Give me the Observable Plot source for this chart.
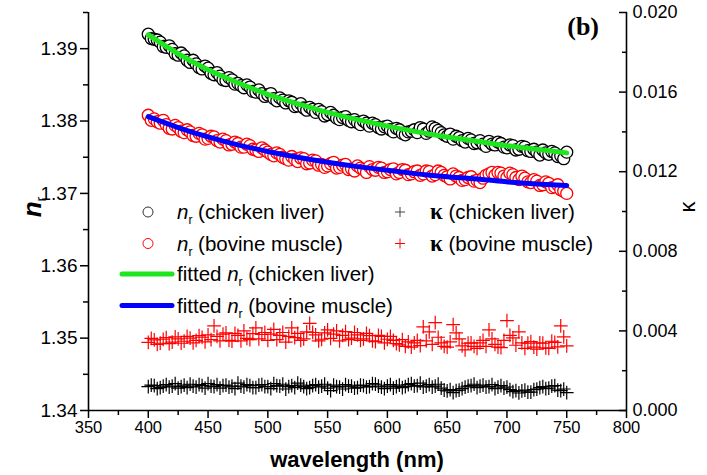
<!DOCTYPE html>
<html><head><meta charset="utf-8">
<script src="https://cdn.jsdelivr.net/npm/d3@7"></script>
<script src="https://cdn.jsdelivr.net/npm/@observablehq/plot@0.6"></script>
<style>
html,body{margin:0;padding:0;background:#fff;}
#chart{position:relative;width:707px;height:475px;}
#chart svg{position:absolute;left:0;top:0;}
</style></head><body><div id="chart"></div>
<script>
// ---- data ----
const wavelength = [400,402.5,405,407.5,410,412.5,415,417.5,420,422.5,425,427.5,430,432.5,435,437.5,440,442.5,445,447.5,
  450,452.5,455,457.5,460,462.5,465,467.5,470,472.5,475,477.5,480,482.5,485,487.5,490,492.5,495,497.5,
  500,502.5,505,507.5,510,512.5,515,517.5,520,522.5,525,527.5,530,532.5,535,537.5,540,542.5,545,547.5,
  550,552.5,555,557.5,560,562.5,565,567.5,570,572.5,575,577.5,580,582.5,585,587.5,590,592.5,595,597.5,
  600,602.5,605,607.5,610,612.5,615,617.5,620,622.5,625,627.5,630,632.5,635,637.5,640,642.5,645,647.5,
  650,652.5,655,657.5,660,662.5,665,667.5,670,672.5,675,677.5,680,682.5,685,687.5,690,692.5,695,697.5,
  700,702.5,705,707.5,710,712.5,715,717.5,720,722.5,725,727.5,730,732.5,735,737.5,740,742.5,745,747.5,
  750];
const nrChickenLiver = [1.3920,1.3914,1.3913,1.3912,1.3909,1.3903,1.3902,1.3904,1.3899,1.3893,
  1.3891,1.3894,1.3890,1.3884,1.3881,1.3884,1.3879,1.3874,1.3872,1.3876,
  1.3873,1.3866,1.3864,1.3867,1.3862,1.3857,1.3856,1.3860,1.3857,1.3851,
  1.3852,1.3849,1.3846,1.3850,1.3847,1.3841,1.3840,1.3843,1.3838,1.3834,
  1.3836,1.3838,1.3831,1.3828,1.3832,1.3829,1.3825,1.3828,1.3826,1.3820,
  1.3821,1.3824,1.3818,1.3815,1.3819,1.3816,1.3812,1.3816,1.3813,1.3807,
  1.3809,1.3812,1.3808,1.3804,1.3802,1.3805,1.3806,1.3801,1.3799,1.3802,
  1.3798,1.3795,1.3800,1.3797,1.3793,1.3797,1.3795,1.3791,1.3789,1.3792,
  1.3793,1.3788,1.3785,1.3790,1.3788,1.3783,1.3781,1.3785,1.3786,1.3788,
  1.3784,1.3791,1.3789,1.3783,1.3786,1.3792,1.3790,1.3787,1.3784,1.3781,
  1.3779,1.3782,1.3775,1.3779,1.3777,1.3773,1.3771,1.3776,1.3774,1.3769,
  1.3770,1.3773,1.3768,1.3765,1.3772,1.3768,1.3767,1.3771,1.3769,1.3764,
  1.3763,1.3767,1.3766,1.3760,1.3761,1.3765,1.3764,1.3759,1.3758,1.3761,
  1.3757,1.3753,1.3760,1.3756,1.3754,1.3758,1.3756,1.3751,1.3752,1.3748,
  1.3757];
const nrBovineMuscle = [1.3808,1.3801,1.3803,1.3799,1.3797,1.3801,1.3795,1.3790,1.3789,1.3794,
  1.3791,1.3786,1.3784,1.3788,1.3785,1.3780,1.3779,1.3783,1.3781,1.3775,
  1.3776,1.3779,1.3778,1.3773,1.3771,1.3775,1.3773,1.3767,1.3768,1.3771,
  1.3769,1.3764,1.3764,1.3768,1.3766,1.3761,1.3760,1.3758,1.3763,1.3760,
  1.3757,1.3754,1.3752,1.3756,1.3754,1.3750,1.3748,1.3746,1.3751,1.3747,
  1.3744,1.3749,1.3748,1.3741,1.3742,1.3746,1.3745,1.3739,1.3740,1.3736,
  1.3738,1.3741,1.3743,1.3735,1.3736,1.3739,1.3740,1.3733,1.3734,1.3731,
  1.3738,1.3735,1.3733,1.3729,1.3737,1.3733,1.3732,1.3736,1.3735,1.3729,
  1.3730,1.3733,1.3734,1.3727,1.3729,1.3733,1.3732,1.3726,1.3727,1.3730,
  1.3731,1.3725,1.3727,1.3731,1.3730,1.3724,1.3726,1.3731,1.3729,1.3725,
  1.3723,1.3720,1.3727,1.3724,1.3722,1.3718,1.3719,1.3722,1.3723,1.3717,
  1.3718,1.3715,1.3721,1.3725,1.3727,1.3729,1.3725,1.3729,1.3728,1.3724,
  1.3722,1.3728,1.3726,1.3722,1.3719,1.3724,1.3721,1.3716,1.3715,1.3719,
  1.3717,1.3711,1.3712,1.3716,1.3714,1.3708,1.3709,1.3712,1.3705,1.3703,
  1.3700];
const kappaChickenLiver = [0.00120,0.00128,0.00125,0.00110,0.00115,0.00122,0.00130,0.00118,0.00122,0.00135,
  0.00112,0.00120,0.00128,0.00115,0.00132,0.00122,0.00118,0.00130,0.00125,0.00112,
  0.00135,0.00122,0.00120,0.00130,0.00112,0.00125,0.00128,0.00118,0.00122,0.00110,
  0.00138,0.00122,0.00118,0.00130,0.00125,0.00115,0.00115,0.00128,0.00130,0.00120,
  0.00120,0.00110,0.00135,0.00125,0.00122,0.00132,0.00108,0.00120,0.00125,0.00115,
  0.00138,0.00128,0.00120,0.00110,0.00115,0.00125,0.00130,0.00118,0.00122,0.00132,
  0.00112,0.00100,0.00128,0.00120,0.00118,0.00108,0.00130,0.00122,0.00122,0.00112,
  0.00115,0.00128,0.00125,0.00118,0.00120,0.00135,0.00132,0.00122,0.00118,0.00110,
  0.00122,0.00130,0.00112,0.00120,0.00128,0.00115,0.00120,0.00130,0.00135,0.00122,
  0.00125,0.00138,0.00118,0.00122,0.00130,0.00118,0.00122,0.00132,0.00112,0.00102,
  0.00098,0.00105,0.00090,0.00100,0.00102,0.00110,0.00118,0.00122,0.00125,0.00132,
  0.00115,0.00122,0.00128,0.00118,0.00120,0.00130,0.00110,0.00118,0.00125,0.00112,
  0.00118,0.00105,0.00095,0.00100,0.00088,0.00098,0.00102,0.00092,0.00092,0.00105,
  0.00108,0.00115,0.00120,0.00110,0.00112,0.00122,0.00125,0.00102,0.00100,0.00108,
  0.00090];
const kappaBovineMuscle = [0.00342,0.00362,0.00355,0.00332,0.00338,0.00358,0.00366,0.00336,0.00344,0.00370,
  0.00360,0.00338,0.00348,0.00372,0.00364,0.00340,0.00352,0.00376,0.00368,0.00345,
  0.00380,0.00356,0.00425,0.00372,0.00350,0.00384,0.00390,0.00352,0.00348,0.00388,
  0.00378,0.00350,0.00400,0.00362,0.00356,0.00386,0.00415,0.00360,0.00382,0.00392,
  0.00352,0.00384,0.00408,0.00356,0.00378,0.00392,0.00344,0.00372,0.00415,0.00366,
  0.00388,0.00352,0.00360,0.00395,0.00438,0.00392,0.00380,0.00350,0.00358,0.00390,
  0.00405,0.00362,0.00384,0.00400,0.00350,0.00378,0.00396,0.00356,0.00364,0.00392,
  0.00380,0.00352,0.00360,0.00388,0.00376,0.00350,0.00346,0.00378,0.00372,0.00340,
  0.00358,0.00372,0.00352,0.00336,0.00330,0.00356,0.00322,0.00345,0.00318,0.00340,
  0.00352,0.00326,0.00420,0.00350,0.00395,0.00332,0.00442,0.00368,0.00340,0.00322,
  0.00318,0.00345,0.00432,0.00390,0.00360,0.00325,0.00305,0.00338,0.00340,0.00322,
  0.00312,0.00340,0.00352,0.00322,0.00405,0.00360,0.00332,0.00318,0.00316,0.00352,
  0.00452,0.00378,0.00365,0.00328,0.00395,0.00340,0.00312,0.00338,0.00346,0.00318,
  0.00308,0.00340,0.00338,0.00315,0.00312,0.00348,0.00342,0.00320,0.00425,0.00370,
  0.00325];
const fitWavelength = [400,425,450,475,500,525,550,575,600,625,650,675,700,725,750];
const fitChickenLiver = [1.3919,1.3893,1.3871,1.3853,1.3837,1.3824,1.3812,1.3802,1.3793,1.3785,1.3778,1.3772,1.3766,1.3761,1.3756];
const fitBovineMuscle = [1.3806,1.3791,1.3778,1.3767,1.3758,1.3750,1.3743,1.3737,1.3732,1.3727,1.3723,1.3720,1.3716,1.3713,1.3711];

const xTicks = [350,400,450,500,550,600,650,700,750,800];
const xMinorTicks = [375,425,475,525,575,625,675,725,775];
const nrTicks = [1.34,1.35,1.36,1.37,1.38,1.39];
const nrMinorTicks = [1.345,1.355,1.365,1.375,1.385,1.395];
const kappaTicks = [0.000,0.004,0.008,0.012,0.016,0.020];
const kappaMinorTicks = [0.002,0.006,0.010,0.014,0.018];

// ---- tables built from the arrays ----
const measured = wavelength.map((w, i) => ({
  w, liver: nrChickenLiver[i], muscle: nrBovineMuscle[i],
  kLiver: kappaChickenLiver[i], kMuscle: kappaBovineMuscle[i]
}));
const fitted = fitWavelength.map((w, i) => ({w, liver: fitChickenLiver[i], muscle: fitBovineMuscle[i]}));

const W = 707, H = 475;
const margins = {marginTop: 12, marginRight: 81, marginBottom: 65, marginLeft: 88};
const FONT = "Arial, 'Liberation Sans', Helvetica, sans-serif";
const SERIF = "'Liberation Serif', 'Times New Roman', serif";
const GREEN = "#1ee61e", BLUE = "#0000ff", RED = "#ff0000";

const p1 = Plot.plot({
  width: W, height: H, ...margins,
  style: {fontFamily: FONT, background: "white", color: "#000", overflow: "visible"},
  x: {domain: [350, 800], label: null},
  y: {domain: [1.34, 1.395], label: null},
  marks: [
    Plot.dot(measured, {x: "w", y: "liver", r: 6, stroke: "#000", fill: "#fff", strokeWidth: 1.3}),
    Plot.dot(measured, {x: "w", y: "muscle", r: 6, stroke: RED, fill: "#fff", strokeWidth: 1.3}),
    Plot.line(fitted, {x: "w", y: "liver", stroke: GREEN, strokeWidth: 5, curve: "natural"}),
    Plot.line(fitted, {x: "w", y: "muscle", stroke: BLUE, strokeWidth: 5, curve: "natural"}),
    Plot.ruleX([350], {stroke: "#000", strokeWidth: 1.6}),
    Plot.ruleY([1.34], {stroke: "#000", strokeWidth: 1.6}),
    Plot.axisY(nrTicks, {anchor: "left", tickSize: 8, tickPadding: 3, strokeWidth: 1.5, fontSize: 19, tickFormat: d3.format(".2f"), label: null}),
    Plot.axisY(nrMinorTicks, {anchor: "left", tickSize: 5, strokeWidth: 1.5, tickFormat: () => "", label: null}),
    Plot.axisX(xTicks, {anchor: "bottom", tickSize: 8, tickPadding: 3, strokeWidth: 1.5, fontSize: 16.5, label: null}),
    Plot.axisX(xMinorTicks, {anchor: "bottom", tickSize: 5, strokeWidth: 1.5, tickFormat: () => "", label: null})
  ]
});

const p2 = Plot.plot({
  width: W, height: H, ...margins,
  style: {fontFamily: FONT, background: "transparent", color: "#000", overflow: "visible"},
  x: {domain: [350, 800], label: null, axis: null},
  y: {domain: [0, 0.02], label: null},
  marks: [
    Plot.dot(measured, {x: "w", y: "kLiver", symbol: "plus", r: 4.5, stroke: "#000", fill: "none", strokeWidth: 1.2}),
    Plot.dot(measured, {x: "w", y: "kMuscle", symbol: "plus", r: 4.5, stroke: RED, fill: "none", strokeWidth: 1.2}),
    Plot.ruleX([800], {stroke: "#000", strokeWidth: 1.6}),
    Plot.axisY(kappaTicks, {anchor: "right", tickSize: -8, tickPadding: 14, strokeWidth: 1.5, fontSize: 18, tickFormat: d3.format(".3f"), label: null}),
    Plot.axisY(kappaMinorTicks, {anchor: "right", tickSize: -5, tickPadding: 10, strokeWidth: 1.5, tickFormat: () => "", label: null})
  ]
});

const chart = document.getElementById("chart");
chart.appendChild(p1);
chart.appendChild(p2);

// ---- titles, panel tag and legend (text kept as real text) ----
const svg = d3.select(p2);
const deco = svg.append("g").attr("font-family", FONT).attr("fill", "#000").attr("text-anchor", "start");

// x-axis title
deco.append("text").attr("x", 357).attr("y", 467).attr("text-anchor", "middle")
  .attr("font-size", 22).attr("font-weight", "bold").text("wavelength (nm)");

// left y-axis title n_r
const ly = deco.append("text").attr("transform", "translate(41,207) rotate(-90)")
  .attr("text-anchor", "middle").attr("font-size", 26).attr("font-weight", "bold");
ly.append("tspan").attr("font-style", "italic").text("n");
ly.append("tspan").attr("font-size", 14).attr("dy", 5).attr("font-weight", "normal").text("r");

// right y-axis title kappa
deco.append("text").attr("transform", "translate(695,207) rotate(-90)")
  .attr("text-anchor", "middle").attr("font-size", 22).text("κ");

// panel tag
deco.append("text").attr("x", 599).attr("y", 35).attr("text-anchor", "end")
  .attr("font-family", SERIF).attr("font-size", 26).attr("font-weight", "bold").text("(b)");

// legend
const LFS = 20.5;
function nrLabel(x, y, pre, post) {
  const t = deco.append("text").attr("x", x).attr("y", y).attr("font-size", LFS).attr("text-anchor", "start");
  if (pre) t.append("tspan").text(pre);
  t.append("tspan").attr("font-style", "italic").text("n");
  t.append("tspan").attr("font-size", 12).attr("dy", 5).text("r");
  t.append("tspan").attr("dy", -5).text(post);
}
function kLabel(x, y, post) {
  const t = deco.append("text").attr("x", x).attr("y", y).attr("font-size", LFS).attr("text-anchor", "start");
  t.append("tspan").attr("font-family", SERIF).attr("font-weight", "bold").attr("font-size", 23).text("κ");
  t.append("tspan").text(" " + post);
}
const rows = [212, 243.5, 274, 305.5];
const leg = deco.append("g");
leg.append("circle").attr("cx", 148).attr("cy", rows[0]).attr("r", 5).attr("fill", "#fff").attr("stroke", "#333").attr("stroke-width", 1);
nrLabel(177, rows[0] + 7, "", " (chicken liver)");
leg.append("circle").attr("cx", 148).attr("cy", rows[1]).attr("r", 5).attr("fill", "#fff").attr("stroke", RED).attr("stroke-width", 1);
nrLabel(177, rows[1] + 7, "", " (bovine muscle)");
leg.append("path").attr("d", `M395,${rows[0]}h10M400,${rows[0]-5}v10`).attr("stroke", "#444").attr("stroke-width", 1);
kLabel(430, rows[0] + 7, "(chicken liver)");
leg.append("path").attr("d", `M395,${rows[1]}h10M400,${rows[1]-5}v10`).attr("stroke", RED).attr("stroke-width", 1);
kLabel(430, rows[1] + 7, "(bovine muscle)");
leg.append("line").attr("x1", 122).attr("x2", 172).attr("y1", rows[2]).attr("y2", rows[2]).attr("stroke", GREEN).attr("stroke-width", 5).attr("stroke-linecap", "round");
nrLabel(177, rows[2] + 7, "fitted ", " (chicken liver)");
leg.append("line").attr("x1", 122).attr("x2", 172).attr("y1", rows[3]).attr("y2", rows[3]).attr("stroke", BLUE).attr("stroke-width", 5).attr("stroke-linecap", "round");
nrLabel(177, rows[3] + 7, "fitted ", " (bovine muscle)");
</script></body></html>
